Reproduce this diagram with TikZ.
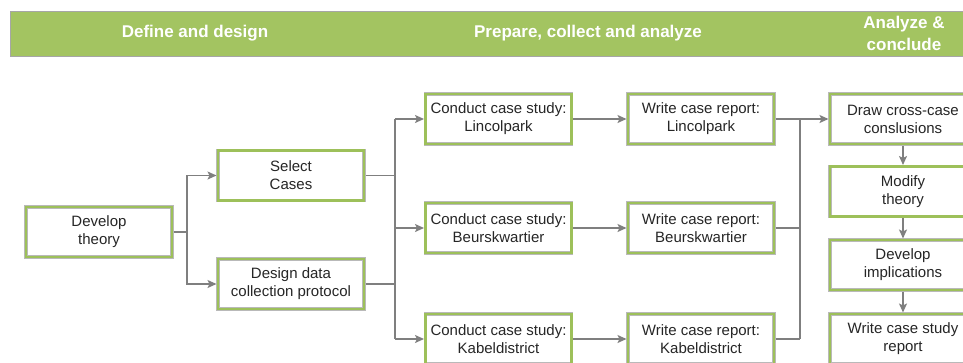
\documentclass[tikz,border=0pt]{standalone}
\usepackage{fontspec}
\setmainfont{Liberation Sans}
\usetikzlibrary{arrows.meta}
\definecolor{bargreen}{HTML}{A3C461}
\definecolor{boxgreen}{HTML}{9DC05A}
\definecolor{linegray}{HTML}{7F7F7F}
\tikzset{
  stepbox/.style={draw=gray!55, double=boxgreen, double distance=2.4pt, line width=0.4pt,
    fill=white, minimum width=146pt, minimum height=50pt, inner sep=0pt, outer sep=1.5pt,
    align=center, font=\fontsize{15}{18}\selectfont, text=black!85},
  conn/.style={draw=linegray, line width=1.5pt},
  arr/.style={conn, -{Stealth[length=9pt,width=8pt,inset=2pt]}},
  hdr/.style={text=white, font=\fontsize{17}{22}\selectfont\bfseries, align=center}
}
\begin{document}
\begin{tikzpicture}[x=1pt,y=-1pt]
\useasboundingbox (0,0) rectangle (963,362);
\clip (0,0) rectangle (963,362);
% header bar
\node[draw=gray!70, line width=0.6pt, fill=bargreen, minimum width=960pt, minimum height=45pt,
  anchor=north west, inner sep=0pt] (bar) at (10,11) {};
\node[hdr] (h1) at (195,33) {Define and design};
\node[hdr] (h2) at (588,33) {Prepare, collect and analyze};
\node[hdr] (h3) at (904,33) {Analyze \&\\conclude};
% boxes
\node[stepbox] (dev) at (99,232) {Develop\\theory};
\node[stepbox] (sel) at (291,175.5) {Select\\Cases};
\node[stepbox] (des) at (291,284) {Design data\\collection protocol};
\node[stepbox] (c1) at (498.5,119) {Conduct case study:\\Lincolpark};
\node[stepbox] (c2) at (498.5,228) {Conduct case study:\\Beurskwartier};
\node[stepbox] (c3) at (498.5,339) {Conduct case study:\\Kabeldistrict};
\node[stepbox] (w1) at (701,119) {Write case report:\\Lincolpark};
\node[stepbox] (w2) at (701,228) {Write case report:\\Beurskwartier};
\node[stepbox] (w3) at (701,339) {Write case report:\\Kabeldistrict};
\node[stepbox] (r1) at (903,119) {Draw cross-case\\conslusions};
\node[stepbox] (r2) at (903,191.5) {Modify\\theory};
\node[stepbox] (r3) at (903,265) {Develop\\implications};
\node[stepbox] (r4) at (903,339) {Write case study\\report};
% junctions
\coordinate (ja) at (187,232);
\coordinate (jb) at (395,228);
\coordinate (jc) at (800,228);
% connectors
\draw[conn] (dev.east) -- (ja);
\draw[arr] (ja) |- (sel.west);
\draw[arr] (ja) |- (des.west);
\draw[conn] (sel.east) -- (sel.east -| jb);
\draw[conn] (des.east) -- (des.east -| jb);
\draw[conn] (jb |- c1.west) -- (jb |- c3.west);
\draw[arr] (jb |- c1.west) -- (c1.west);
\draw[arr] (jb |- c2.west) -- (c2.west);
\draw[arr] (jb |- c3.west) -- (c3.west);
\draw[arr] (c1) -- (w1);
\draw[arr] (c2) -- (w2);
\draw[arr] (c3) -- (w3);
\draw[arr] (w1) -- (r1);
\draw[conn] (w2.east) -- (jc);
\draw[conn] (w3.east) -- (w3.east -| jc);
\draw[conn] (jc |- w1.east) -- (jc |- w3.east);
\draw[arr] (r1) -- (r2);
\draw[arr] (r2) -- (r3);
\draw[arr] (r3) -- (r4);
\end{tikzpicture}
\end{document}
